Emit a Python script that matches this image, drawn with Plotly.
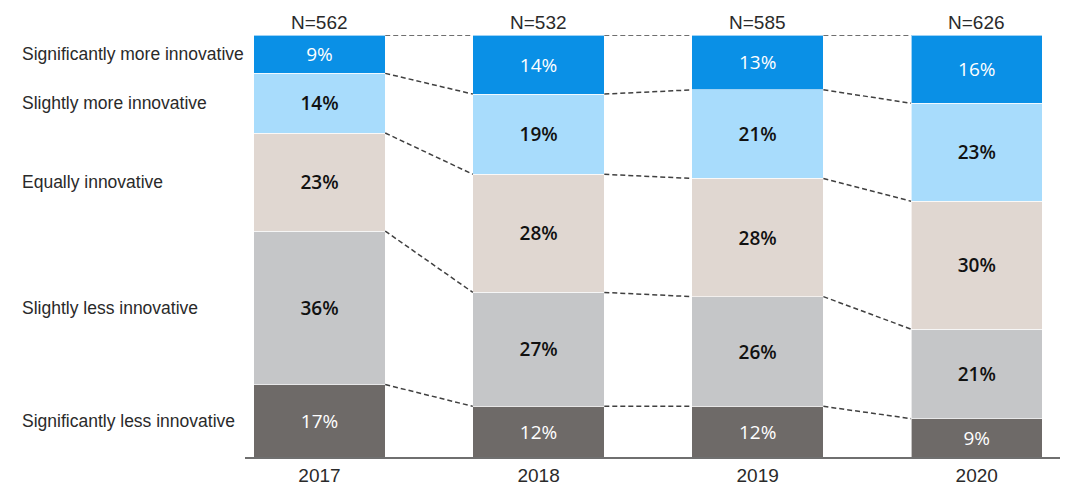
import plotly.graph_objects as go

years = ["2017", "2018", "2019", "2020"]
n_labels = ["N=562", "N=532", "N=585", "N=626"]
categories = [
    "Significantly less innovative",
    "Slightly less innovative",
    "Equally innovative",
    "Slightly more innovative",
    "Significantly more innovative",
]
sig_less = [17, 12, 12, 9]
sl_less = [36, 27, 26, 21]
equal = [23, 28, 28, 30]
sl_more = [14, 19, 21, 23]
sig_more = [9, 14, 13, 16]

series = [sig_less, sl_less, equal, sl_more, sig_more]
colors = ["#6e6a68", "#c5c6c8", "#e0d7d1", "#a8dcfc", "#0a90e6"]
text_colors = ["white", "#111111", "#111111", "#111111", "white"]
weights = [400, 600, 600, 600, 400]

xs = list(range(len(years)))
W = 0.6

fig = go.Figure()
for name, vals, c, tc, wt in zip(categories, series, colors, text_colors, weights):
    fig.add_trace(go.Bar(
        x=xs, y=vals, name=name, width=W,
        marker=dict(color=c, line=dict(color="rgba(255,255,255,0.6)", width=1)),
        text=[f"{v}%" for v in vals],
        textposition="inside", insidetextanchor="middle", textangle=0,
        textfont=dict(color=tc, size=19, family="Open Sans", weight=wt),
        hoverinfo="skip",
    ))

# normalized cumulative boundaries
totals = [sum(s[i] for s in series) for i in xs]
cum = []
for i in xs:
    acc = 0
    row = []
    for s in series:
        acc += s[i] / totals[i] * 100
        row.append(acc)
    cum.append(row)

for k in range(len(series)):
    for i in range(len(xs) - 1):
        fig.add_trace(go.Scatter(
            x=[xs[i] + W / 2, xs[i + 1] - W / 2],
            y=[cum[i][k], cum[i + 1][k]],
            mode="lines", line=dict(color="#404040", width=1.5, dash="5px,3px"),
            showlegend=False, hoverinfo="skip",
        ))

# left category labels at 2017 segment midpoints
prev = 0
for k, name in enumerate(categories):
    mid = (prev + cum[0][k]) / 2
    prev = cum[0][k]
    fig.add_annotation(x=-0.276, xref="paper", y=mid, yref="y", text=name,
                       showarrow=False, xanchor="left", yanchor="middle",
                       font=dict(size=17.5, color="#2a2a2a", family="Liberation Sans"))

for i, n in zip(xs, n_labels):
    fig.add_annotation(x=i, y=100, text=n, showarrow=False, yanchor="bottom",
                       yshift=0, font=dict(size=19, color="#2a2a2a", family="Liberation Sans"))

fig.update_layout(
    barmode="stack", barnorm="percent",
    width=1074, height=490,
    margin=dict(l=237, r=22, t=27, b=38),
    plot_bgcolor="white", paper_bgcolor="white",
    showlegend=False,
    xaxis=dict(tickvals=xs, ticktext=years, range=[-0.34, 3.38],
               showline=True, linecolor="#6f6f6f", linewidth=2,
               showgrid=False, zeroline=False, ticks="",
               tickfont=dict(size=19, color="#2a2a2a", family="Liberation Sans")),
    yaxis=dict(range=[0, 100], visible=False, showgrid=False, zeroline=False),
)

fig.write_html("out.html")
